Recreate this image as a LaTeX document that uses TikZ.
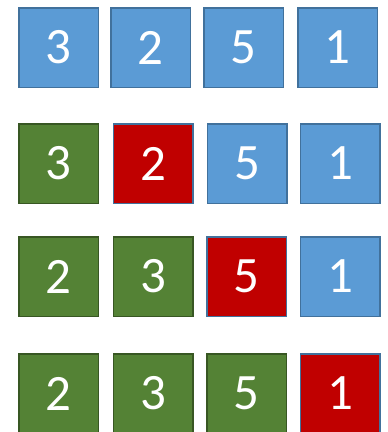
\documentclass[tikz,border=0pt]{standalone}
\usepackage{fontspec}
\setmainfont{Carlito}
\usetikzlibrary{positioning}

\begin{document}
\begin{tikzpicture}[x=1pt,y=1pt,
  cell/.style={draw, line width=1.5pt, minimum size=79.5pt, inner sep=0pt,
    text=white, font=\fontsize{51}{51}\selectfont},
  todo/.style={cell, fill={rgb,255:red,91;green,155;blue,213}, draw={rgb,255:red,65;green,113;blue,156}},
  done/.style={cell, fill={rgb,255:red,84;green,130;blue,53}, draw={rgb,255:red,56;green,87;blue,35}},
  pick/.style={cell, fill={rgb,255:red,192;green,0;blue,0}, draw={rgb,255:red,65;green,113;blue,156}}]

  \useasboundingbox (0,0) rectangle (388,-432);

  % pass 0
  \node[todo] (a1) at (58.5,-47.5) {3};
  \node[todo] (a2) at (150.5,-47.5) {2};
  \node[todo] (a3) at (243.5,-47.5) {5};
  \node[todo] (a4) at (337.5,-47.5) {1};

  % pass 1
  \node[done] (b1) at (58.5,-163.5) {3};
  \node[pick] (b2) at (153,-163.5) {2};
  \node[todo] (b3) at (247,-163.5) {5};
  \node[todo] (b4) at (340,-163.5) {1};

  % pass 2
  \node[done] (c1) at (58.5,-276.5) {2};
  \node[done] (c2) at (153,-276.5) {3};
  \node[pick] (c3) at (246.5,-276.5) {5};
  \node[todo] (c4) at (340,-276.5) {1};

  % pass 3
  \node[done] (d1) at (58.5,-393.5) {2};
  \node[done] (d2) at (153,-393.5) {3};
  \node[done] (d3) at (246.5,-393.5) {5};
  \node[pick] (d4) at (340,-393.5) {1};
\end{tikzpicture}
\end{document}
